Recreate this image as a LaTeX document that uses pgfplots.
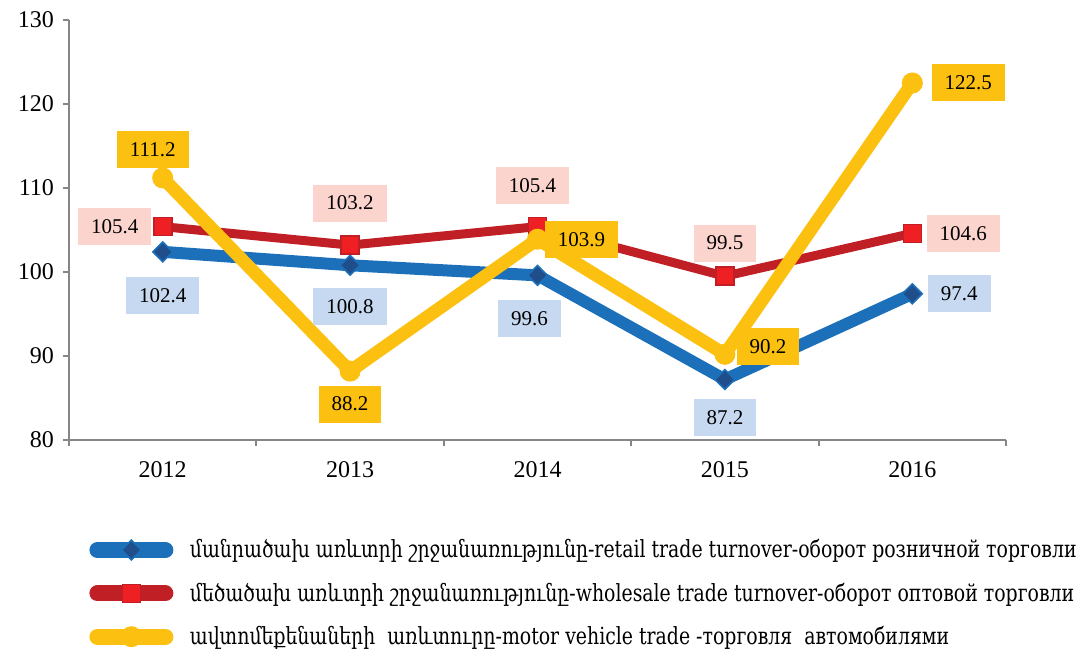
\documentclass[border=0pt]{standalone}
\usepackage{fontspec}
\setmainfont{Liberation Serif}
\newfontfamily\legfont[FakeStretch=0.8]{DejaVu Serif}
\usepackage{pgfplots}
\usepackage{pgfplotstable}
\pgfplotsset{compat=1.18}
\definecolor{cblue}{HTML}{1C70B9}
\definecolor{cbluem}{HTML}{1F4E8B}
\definecolor{cred}{HTML}{C01F26}
\definecolor{credm}{HTML}{EE2024}
\definecolor{cyel}{HTML}{FCC010}
\definecolor{lblue}{HTML}{C6D9F0}
\definecolor{lred}{HTML}{FBD4CE}
\definecolor{axgray}{HTML}{868686}

\pgfplotstableread{
x y dx dy
0 102.4 0 -22
1 100.8 0 -20.5
2 99.6 -4 -21.5
3 87.2 0 -19
4 97.4 23.5 0
}\retail
\pgfplotstableread{
x y dx dy
0 105.4 -24 0
1 103.2 0 21
2 105.4 -2.5 20.5
3 99.5 0 16.5
4 104.6 25.5 0
}\wholesale
\pgfplotstableread{
x y dx dy
0 111.2 -5 14
1 88.2 0 -16.5
2 103.9 22 0
3 90.2 21.5 4
4 122.5 28 0
}\motor

\begin{document}
\begin{tikzpicture}
\useasboundingbox (-34.5pt,-105.5pt) rectangle (511.5pt,220pt);
\begin{axis}[
  scale only axis, width=468.5pt, height=210pt,
  xmin=-0.5, xmax=4.5, ymin=80, ymax=130,
  axis x line*=bottom, axis y line*=left,
  axis line style={axgray, line width=1pt, -},
  xtick={0,1,2,3,4}, xticklabels={2012,2013,2014,2015,2016},
  minor xtick={-0.5,0.5,1.5,2.5,3.5,4.5},
  ytick={80,90,100,110,120,130},
  tick style={axgray, line width=1pt},
  major x tick style={draw=none},
  tick align=outside,
  major tick length=3pt, minor tick length=3pt,
  tick label style={font=\fontsize{12}{14}\selectfont},
  /pgf/number format/assume math mode=true,
  yticklabel style={xshift=-1pt},
  xticklabel style={yshift=-4pt},
  clip=false,
  legend style={at={(0,0)}, anchor=north west, xshift=10pt, yshift=-47.5pt,
    draw=none, fill=none, inner sep=0pt, row sep=7pt,
    font=\legfont\fontsize{11.8}{14}\selectfont, cells={anchor=west}},
  legend cell align=left,
  legend image code/.code={
    \draw[#1, line width=8pt, line cap=round, mark repeat=2, mark phase=2]
      plot coordinates {(0pt,0pt) (17pt,0pt) (34pt,0pt)};
    \path (41pt,0pt);
  },
  every node near coord/.append style={font=\fontsize{10.5}{12}\selectfont, text=black,
     inner xsep=6.5pt, inner ysep=4.5pt, minimum height=18.5pt, anchor=center},
]
\addplot[cblue, line width=6pt, mark=square*, mark size=3.5pt,
  mark options={fill=cbluem, draw=cblue, line width=0.8pt, rotate=45}] table[x=x,y=y] {\retail};
\addlegendentry{մանրածախ առևտրի շրջանառությունը-retail trade turnover-оборот розничной торговли}
\addplot[cred, line width=4.5pt, mark=square*, mark size=4.5pt,
  mark options={fill=credm, draw=cred, line width=0.8pt}] table[x=x,y=y] {\wholesale};
\addlegendentry{մեծածախ առևտրի շրջանառությունը-wholesale trade turnover-оборот оптовой торговли}
\addplot[cyel, line width=6.5pt, mark=*, mark size=5pt,
  mark options={fill=cyel, draw=cyel, line width=0.5pt}] table[x=x,y=y] {\motor};
\addlegendentry{ավտոմեքենաների\ \ առևտուրը-motor vehicle trade -торговля\ \ автомобилями}

\addplot[draw=none, forget plot, nodes near coords, point meta=y,
  visualization depends on={\thisrow{dx}\as\dx},
  visualization depends on={\thisrow{dy}\as\dy},
  nodes near coords style={fill=lblue, xshift=\dx pt, yshift=\dy pt, anchor=center,
   /pgf/number format/.cd, fixed, precision=1, fixed zerofill}] table[x=x,y=y] {\retail};
\addplot[draw=none, forget plot, nodes near coords, point meta=y,
  visualization depends on={\thisrow{dx}\as\dx},
  visualization depends on={\thisrow{dy}\as\dy},
  nodes near coords style={fill=lred, xshift=\dx pt, yshift=\dy pt, anchor=center,
   /pgf/number format/.cd, fixed, precision=1, fixed zerofill}] table[x=x,y=y] {\wholesale};
\addplot[draw=none, forget plot, nodes near coords, point meta=y,
  visualization depends on={\thisrow{dx}\as\dx},
  visualization depends on={\thisrow{dy}\as\dy},
  nodes near coords style={fill=cyel, xshift=\dx pt, yshift=\dy pt, anchor=center,
   /pgf/number format/.cd, fixed, precision=1, fixed zerofill}] table[x=x,y=y] {\motor};
\end{axis}
\end{tikzpicture}
\end{document}
